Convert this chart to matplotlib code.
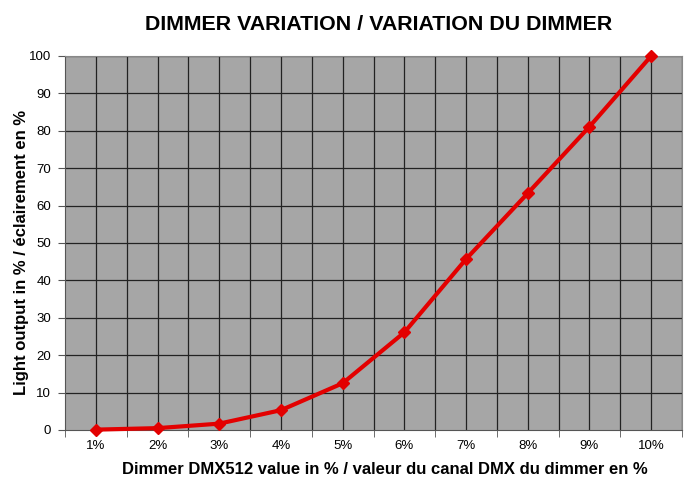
import matplotlib
matplotlib.use('Agg')
import matplotlib.pyplot as plt
import numpy as np

plt.rcParams['font.family'] = ['Liberation Sans', 'DejaVu Sans']

dmx_labels = ['1%', '2%', '3%', '4%', '5%', '6%', '7%', '8%', '9%', '10%']
light_output = [0.1, 0.5, 1.7, 5.3, 12.5, 26.1, 45.7, 63.3, 81.1, 100.0]

fig = plt.figure(figsize=(7, 4.93), dpi=100)
ax = fig.add_axes([65 / 700, 1 - 430 / 493, 617 / 700, 374 / 493])

xs = np.arange(1, len(dmx_labels) + 1)
ax.set_facecolor('#a6a6a6')
ax.set_xlim(0.5, len(dmx_labels) + 0.5)
ax.set_ylim(0, 100)

# grid: horizontal every 10, vertical at category centres and boundaries
ax.set_yticks(np.arange(0, 101, 10))
ax.set_xticks(xs)
ax.set_xticklabels(dmx_labels)
ax.set_xticks(np.arange(0.5, len(dmx_labels) + 1, 1), minor=True)
for y in range(10, 101, 10):
    ax.axhline(y, color='#222222', lw=0.9, zorder=1)
for x in np.arange(1, len(dmx_labels) + 0.6, 0.5):
    ax.axvline(x, color='#222222', lw=0.9, zorder=1)

ax.plot(xs, light_output, color='#e30000', lw=3, marker='D', ms=6, zorder=3, clip_on=False)

ax.tick_params(axis='x', which='major', length=0, labelsize=9.5, pad=7)
ax.tick_params(axis='x', which='minor', length=5, color='#555555')
ax.tick_params(axis='y', length=5, labelsize=9.5, color='#555555', pad=5)
for side in ['top', 'right']:
    ax.spines[side].set_color('#888888')
    ax.spines[side].set_linewidth(0.8)
for side in ['left', 'bottom']:
    ax.spines[side].set_color('#555555')

fig.text(379 / 700, 1 - 25 / 493, 'DIMMER VARIATION / VARIATION DU DIMMER',
         ha='center', va='center', fontsize=15.4, fontweight='bold')
ax.set_xlabel('Dimmer DMX512 value in % / valeur du canal DMX du dimmer en %',
              fontsize=12, fontweight='bold')
ax.set_ylabel('Light output in % / éclairement en %', fontsize=12, fontweight='bold')
ax.xaxis.set_label_coords(0.519, -0.085)
ax.yaxis.set_label_coords(-0.059, 0.476)

fig.savefig('out.png', dpi=100)
